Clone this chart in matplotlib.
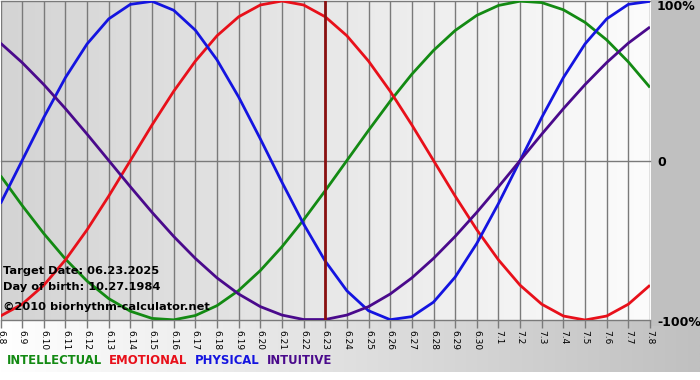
import numpy as np
import matplotlib
matplotlib.use('Agg')
from matplotlib import pyplot as plt
from matplotlib.colors import LinearSegmentedColormap

# days shown, 06.08 .. 07.08 (2025)
days = ['6.8', '6.9', '6.10', '6.11', '6.12', '6.13', '6.14', '6.15', '6.16', '6.17',
        '6.18', '6.19', '6.20', '6.21', '6.22', '6.23', '6.24', '6.25', '6.26', '6.27',
        '6.28', '6.29', '6.30', '7.1', '7.2', '7.3', '7.4', '7.5', '7.6', '7.7', '7.8']
target_day = '6.23'

# cycle values per day, in [-1, 1]
physical = [-0.270, 0.000, 0.270, 0.520, 0.731, 0.888, 0.979, 0.998, 0.942, 0.817,
            0.631, 0.398, 0.136, -0.136, -0.398, -0.631, -0.817, -0.942, -0.998, -0.979,
            -0.888, -0.731, -0.520, -0.270, 0.000, 0.270, 0.520, 0.731, 0.888, 0.979, 0.998]
emotional = [-0.975, -0.901, -0.782, -0.623, -0.434, -0.223, 0.000, 0.223, 0.434, 0.623,
             0.782, 0.901, 0.975, 1.000, 0.975, 0.901, 0.782, 0.623, 0.434, 0.223,
             0.000, -0.223, -0.434, -0.623, -0.782, -0.901, -0.975, -1.000, -0.975, -0.901, -0.782]
intellectual = [-0.095, -0.282, -0.458, -0.618, -0.756, -0.866, -0.945, -0.990, -0.999, -0.972,
                -0.910, -0.815, -0.690, -0.541, -0.372, -0.189, 0.000, 0.189, 0.372, 0.541,
                0.690, 0.815, 0.910, 0.972, 0.999, 0.990, 0.945, 0.866, 0.756, 0.618, 0.458]
intuitive = [0.736, 0.614, 0.476, 0.325, 0.165, 0.000, -0.165, -0.325, -0.476, -0.614,
             -0.736, -0.837, -0.916, -0.969, -0.997, -0.997, -0.969, -0.916, -0.837, -0.736,
             -0.614, -0.476, -0.325, -0.165, 0.000, 0.165, 0.325, 0.476, 0.614, 0.736, 0.837]

series = [('INTELLECTUAL', intellectual, '#138a13'),
          ('EMOTIONAL', emotional, '#e8101a'),
          ('PHYSICAL', physical, '#1414e0'),
          ('INTUITIVE', intuitive, '#4a0a8c')]

W, H = 700, 380
fig = plt.figure(figsize=(W / 100, H / 100), dpi=100)

# background: white, gray right panel, gradient band under the plot
bg = fig.add_axes([0, 0, 1, 1])
bg.set_xlim(0, W)
bg.set_ylim(H, 0)
bg.axis('off')
band = LinearSegmentedColormap.from_list('band', ['#ffffff', '#c0c0c0'])
bg.imshow(np.linspace(0, 1, 256)[None, :], cmap=band, extent=[0, W, 372, 320],
          aspect='auto', interpolation='bilinear')
bg.add_patch(plt.Rectangle((651, 0), W - 651, 326, color='#c0c0c0', lw=0))

# plot area in pixels
x0, x1, y0, y1 = 0.5, 650.0, 1.0, 320.0
ax = fig.add_axes([x0 / W, 1 - y1 / H, (x1 - x0) / W, (y1 - y0) / H])
n = len(days)
x = np.arange(n)
ax.set_xlim(0, n - 1)
ax.set_ylim(-1, 1)
for s in ax.spines.values():
    s.set_visible(False)

grad = LinearSegmentedColormap.from_list('plotbg', ['#d4d4d4', '#fcfcfc'])
ax.imshow(np.linspace(0, 1, 256)[None, :], cmap=grad, extent=[0, n - 1, -1, 1],
          aspect='auto', interpolation='bilinear', zorder=0)

for xi in x:
    ax.axvline(xi, color='#7a7a7a', lw=1, zorder=1)
for yv in (-1, 0, 1):
    ax.axhline(yv, color='#7a7a7a', lw=1, zorder=1, clip_on=False)

for name, vals, col in series:
    ax.plot(x, vals, color=col, lw=2, zorder=3, solid_capstyle='butt')

ax.axvline(days.index(target_day), color='#8a1010', lw=2, zorder=4)

ax.set_xticks(x)
ax.set_xticklabels(days, rotation=270, fontsize=6.5)
ax.tick_params(axis='x', length=6, width=1, color='#7a7a7a', pad=1)
ax.set_yticks([])

# right side labels
def px(xp, yp):
    return xp / W, 1 - yp / H

for lab, yp in (('100%', 7), ('0', 162), ('-100%', 322)):
    fig.text(*px(657, yp), lab, fontsize=9, fontweight='bold', va='center', ha='left')

info = [('Target Date: 06.23.2025', 271), ('Day of birth: 10.27.1984', 287),
        ('\u00a92010 biorhythm-calculator.net', 307)]
for t, yp in info:
    fig.text(*px(3, yp), t, fontsize=8.2, fontweight='bold', va='center', ha='left', zorder=5)

# legend row
xp = 7
for name, vals, col in series:
    t = fig.text(*px(xp, 361), name, fontsize=8.4, fontweight='bold', color=col,
                 va='center', ha='left')
    fig.canvas.draw()
    bb = t.get_window_extent()
    xp += bb.width + 7

fig.savefig('out.png', dpi=100)
